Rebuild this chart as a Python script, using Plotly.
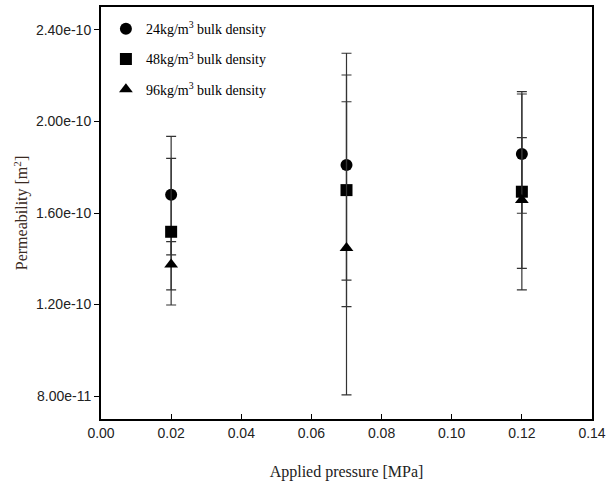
import plotly.graph_objects as go

pressure = [0.02, 0.07, 0.12]

names = ["24kg/m<sup>3</sup> bulk density",
         "48kg/m<sup>3</sup> bulk density",
         "96kg/m<sup>3</sup> bulk density"]
symbols = ["circle", "square", "triangle-up"]

perm_24 = [1.68e-10, 1.81e-10, 1.858e-10]
err_up_24 = [0.255e-10, 0.488e-10, 0.262e-10]
err_dn_24 = [0.263e-10, 0.503e-10, 0.259e-10]

perm_48 = [1.518e-10, 1.70e-10, 1.693e-10]
err_up_48 = [0.321e-10, 0.503e-10, 0.437e-10]
err_dn_48 = [0.320e-10, 0.509e-10, 0.429e-10]

perm_96 = [1.375e-10, 1.447e-10, 1.657e-10]
err_up_96 = [0.100e-10, 0.639e-10, 0.272e-10]
err_dn_96 = [0.111e-10, 0.642e-10, 0.299e-10]

series = [(perm_24, err_up_24, err_dn_24),
          (perm_48, err_up_48, err_dn_48),
          (perm_96, err_up_96, err_dn_96)]

x_ticks = [0.00, 0.02, 0.04, 0.06, 0.08, 0.10, 0.12, 0.14]
y_ticks = [8.0e-11, 1.2e-10, 1.6e-10, 2.0e-10, 2.4e-10]
y_ticklabels = ["8.00e-11", "1.20e-10", "1.60e-10", "2.00e-10", "2.40e-10"]

fig = go.Figure()
for i, (vals, up, dn) in enumerate(series):
    fig.add_trace(go.Scatter(
        x=pressure, y=vals, mode="markers", name=names[i],
        legendgroup="g%d" % i,
        marker=dict(symbol=symbols[i], size=12, color="black"),
        error_y=dict(type="data", symmetric=False, array=up, arrayminus=dn,
                     color="#333333", thickness=1.2, width=5),
    ))

fig.update_layout(
    width=612, height=483,
    margin=dict(l=101, r=20, t=7, b=64),
    paper_bgcolor="white", plot_bgcolor="white",
    showlegend=True,
    legend=dict(x=0.01, y=0.985, xanchor="left", yanchor="top",
                font=dict(family="Liberation Serif", size=14, color="black"),
                bgcolor="rgba(0,0,0,0)", tracegroupgap=9,
                itemwidth=30),
    xaxis=dict(range=[0, 0.14], tickvals=x_ticks, automargin=False,
               ticktext=["%.2f" % v for v in x_ticks],
               showline=True, linecolor="black", linewidth=2, mirror=True,
               ticks="inside", ticklen=5, tickcolor="black", showgrid=False,
               zeroline=False,
               tickfont=dict(family="Liberation Sans", size=14, color="#222"),
               title=dict(text="Applied pressure [MPa]", standoff=26,
                          font=dict(family="Liberation Serif", size=16, color="#222"))),
    yaxis=dict(range=[0.7e-10, 2.5e-10], tickvals=y_ticks, ticktext=y_ticklabels,
               automargin=False,
               showline=True, linecolor="black", linewidth=2, mirror=True,
               ticks="outside", ticklen=5, tickcolor="black", showgrid=False,
               zeroline=False,
               tickfont=dict(family="Liberation Sans", size=14, color="#222"),
               title=dict(text="Permeability [m<sup>2</sup>]", standoff=4,
                          font=dict(family="Liberation Serif", size=16, color="#3a2a22"))),
)

fig.write_html("out.html")
